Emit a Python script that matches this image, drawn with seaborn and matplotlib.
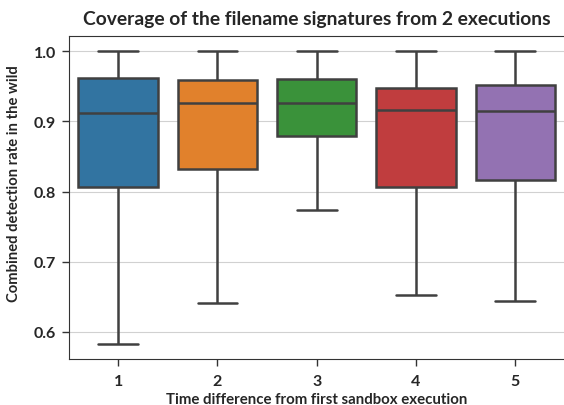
import numpy as np
import pandas as pd
import matplotlib
matplotlib.use("Agg")
import matplotlib.pyplot as plt
import seaborn as sns

groups = [1, 2, 3, 4, 5]
mins    = [0.582, 0.641, 0.774, 0.653, 0.644]
q1s     = [0.807, 0.832, 0.879, 0.807, 0.817]
medians = [0.912, 0.927, 0.926, 0.916, 0.915]
q3s     = [0.962, 0.959, 0.960, 0.948, 0.952]
maxs    = [1.000, 1.000, 1.000, 1.000, 1.000]

rows = []
for g, a, b, c, d, e in zip(groups, mins, q1s, medians, q3s, maxs):
    for v in (a, b, c, d, e):
        rows.append({"diff": g, "rate": v})
df = pd.DataFrame(rows)

sns.set_style("whitegrid", {"axes.edgecolor": ".2", "xtick.bottom": True,
                            "ytick.left": True, "grid.color": ".82"})
plt.rcParams['font.family'] = ['Lato', 'DejaVu Sans']
plt.rcParams['font.weight'] = 'bold'

fig = plt.figure(figsize=(5.64, 4.06), dpi=100)
ax = fig.add_axes([68.5/564, 1 - 360/406, 496.5/564, 323/406])
sns.boxplot(data=df, x="diff", y="rate", hue="diff", palette="tab10",
            legend=False, whis=(0, 100), width=0.8, saturation=0.75,
            linewidth=1.8, linecolor="#404040", ax=ax)
ax.set_ylim(0.561, 1.022)
ax.set_yticks([0.6, 0.7, 0.8, 0.9, 1.0])
ax.set_xlim(-0.5, 4.5)
ax.spines["right"].set_visible(False)
ax.grid(axis="x", visible=False)
ax.tick_params(axis="both", labelsize=11.5, length=5, width=1, color=".2", pad=4)
ax.tick_params(axis="x", pad=6)
for lab in ax.get_xticklabels() + ax.get_yticklabels():
    lab.set_fontweight("bold")
ax.set_xlabel("Time difference from first sandbox execution", fontsize=10.8, fontweight="bold")
ax.set_ylabel("Combined detection rate in the wild", fontsize=10.6, fontweight="bold")
ax.yaxis.set_label_coords(-0.095, 0.546)
ax.xaxis.set_label_coords(0.5, -0.103)
ax.set_title("Coverage of the filename signatures from 2 executions", fontsize=13.9,
             fontweight="bold", pad=9)
fig.savefig("out.png", dpi=100)
